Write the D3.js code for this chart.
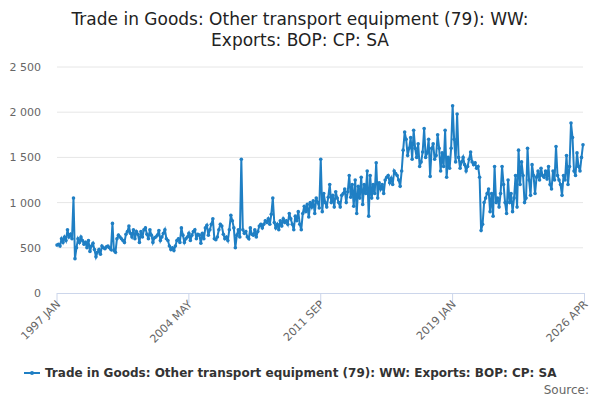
<!DOCTYPE html>
<html><head><meta charset="utf-8">
<script src="https://cdn.jsdelivr.net/npm/d3@7"></script>
<style>body{margin:0;font-family:"DejaVu Sans",sans-serif;background:#fff}</style>
</head><body><svg id="c" width="600" height="400"></svg>
<script>
// monthly values, 1997 JAN .. 2026 APR
const values = [
  530,540,520,600,560,620,580,700,620,650,600,1050,
  380,500,600,560,620,580,540,560,500,580,460,520,
  550,480,400,450,480,430,520,500,490,510,520,500,
  480,770,470,450,600,640,620,600,580,560,650,680,
  740,660,620,700,600,680,650,560,680,620,700,720,
  650,600,700,640,560,610,620,640,690,580,620,660,
  700,600,580,520,480,500,470,520,580,600,560,720,
  640,560,600,620,660,580,640,680,700,600,650,640,
  550,660,600,720,750,640,700,760,820,600,590,620,
  700,760,740,650,600,620,580,700,860,800,720,500,
  640,700,620,1480,700,660,680,620,600,720,650,640,
  700,620,680,740,760,720,760,800,780,820,760,870,
  1050,780,720,760,700,800,740,820,780,800,760,880,
  820,760,700,850,800,900,760,700,880,960,900,980,
  840,1000,950,1020,880,1050,1000,940,1480,900,1100,1000,
  950,1060,1200,1000,1080,950,1120,1050,1000,950,1080,1100,
  1150,1000,1120,1300,1060,1200,960,1250,880,1180,1050,1280,
  980,1200,1100,1350,850,1300,1050,1200,1100,1440,1050,1220,
  1150,1200,1100,1250,1280,1300,1220,1270,1200,1350,1320,1300,
  1250,1180,1350,1580,1780,1700,1520,1600,1720,1480,1800,1600,
  1500,1650,1400,1450,1560,1820,1500,1550,1700,1290,1600,1650,
  1480,1520,1750,1600,1350,1550,1400,1800,1280,1500,1380,1600,
  2070,1700,1450,1980,1500,1380,1450,1500,1420,1350,1400,1480,
  1560,1450,1420,1440,1380,1400,1280,690,760,1000,1050,1100,
  1150,900,1100,850,1400,1000,1050,950,1100,1400,1200,1000,
  880,1250,1000,1100,900,1050,1300,950,1580,1200,1450,1300,
  1000,1050,1600,1250,1080,1420,1300,1100,1280,1350,1250,1380,
  1300,1280,1350,1260,1400,1200,1150,1350,1250,1620,1300,1250,
  1200,1080,1300,1250,1520,1200,1400,1880,1720,1350,1300,1550,
  1400,1350,1500,1640
];
const tickLabels = ["1997 JAN","2004 MAY","2011 SEP","2019 JAN","2026 APR"];
const yTicks = [0,500,1000,1500,2000,2500];

const svg = d3.select("#c");
const m = {left:57, right:583, top:67, bottom:293};
const x = d3.scaleLinear().domain([0, values.length-1]).range([m.left, m.right]);
const y = d3.scaleLinear().domain([0,2500]).range([m.bottom, m.top]);

svg.append("text").attr("x",300).attr("y",25).attr("text-anchor","middle")
  .attr("font-size",17).attr("fill","#222").text("Trade in Goods: Other transport equipment (79): WW:");
svg.append("text").attr("x",300).attr("y",46).attr("text-anchor","middle")
  .attr("font-size",17).attr("fill","#222").text("Exports: BOP: CP: SA");

// grid + y labels
svg.selectAll(".g").data(yTicks.filter(d=>d>0)).enter().append("line")
  .attr("x1",m.left).attr("x2",m.right).attr("y1",d=>y(d)).attr("y2",d=>y(d))
  .attr("stroke","#e6e6e6");
svg.selectAll(".yl").data(yTicks).enter().append("text")
  .attr("x",41).attr("y",d=>y(d)+4).attr("text-anchor","end")
  .attr("font-size",11).attr("fill","#666")
  .text(d=>d3.format(",")(d).replace(",", " "));

// x axis
svg.append("line").attr("x1",m.left).attr("x2",m.right+2).attr("y1",m.bottom+0.5).attr("y2",m.bottom+0.5)
  .attr("stroke","#ccd6eb");
const tickIdx = tickLabels.map((_,i)=>i*88);
svg.selectAll(".xt").data(tickIdx).enter().append("line")
  .attr("x1",d=>x(d)).attr("x2",d=>x(d)).attr("y1",m.bottom).attr("y2",m.bottom+10)
  .attr("stroke","#ccd6eb");
svg.selectAll(".xl").data(tickIdx).enter().append("text")
  .attr("transform",d=>`translate(${x(d)+4},${m.bottom+12}) rotate(-45)`)
  .attr("text-anchor","end").attr("font-size",11).attr("fill","#666")
  .text((d,i)=>tickLabels[i]);

// series
const color = "#1f7fc4";
svg.append("path").datum(values)
  .attr("d", d3.line().x((d,i)=>x(i)).y(d=>y(d)))
  .attr("fill","none").attr("stroke",color).attr("stroke-width",2);
svg.selectAll(".p").data(values).enter().append("circle")
  .attr("cx",(d,i)=>x(i)).attr("cy",d=>y(d)).attr("r",1.8).attr("fill",color);

// legend
svg.append("line").attr("x1",24).attr("x2",40).attr("y1",373).attr("y2",373).attr("stroke",color).attr("stroke-width",2);
svg.append("circle").attr("cx",32).attr("cy",373).attr("r",2).attr("fill",color);
svg.append("text").attr("x",45).attr("y",377).attr("font-size",12).attr("font-weight","bold")
  .attr("fill","#333").text("Trade in Goods: Other transport equipment (79): WW: Exports: BOP: CP: SA");
svg.append("text").attr("x",589).attr("y",394).attr("text-anchor","end").attr("font-size",12)
  .attr("fill","#666").text("Source:");
</script></body></html>
